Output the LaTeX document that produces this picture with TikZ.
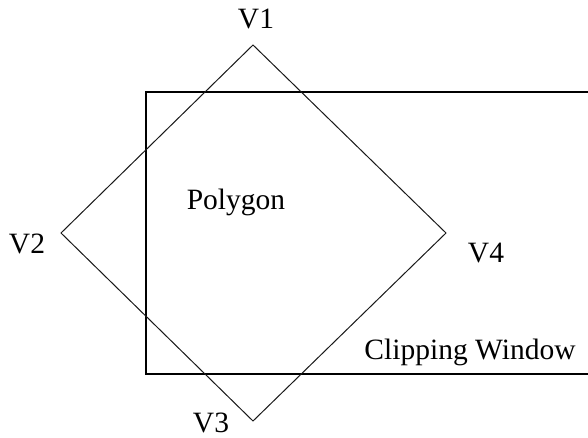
\documentclass[tikz,border=0pt]{standalone}
\usepackage{fontspec}
\setmainfont{Liberation Serif}
\begin{document}
\begin{tikzpicture}[x=1pt,y=-1pt,
  lbl/.style={inner sep=0pt,anchor=base,font=\fontsize{29.5}{31}\selectfont},
  winline/.style={draw=black,line width=1.3pt},
  polyline/.style={draw=black!90,line width=1pt}]
\useasboundingbox (0,0) rectangle (588,438);
\clip (0,0) rectangle (588,438);
\coordinate (w1) at (146,92);
\coordinate (w2) at (600,374);
\draw[winline] (w1) rectangle (w2);
\coordinate (v1) at (253,45);
\coordinate (v2) at (61,233);
\coordinate (v3) at (253,421);
\coordinate (v4) at (446,233);
\draw[polyline,line join=miter] (v1) -- (v2) -- (v3) -- (v4) -- cycle;
\node[lbl] (l1) at (256,29) {V1};
\node[lbl] (l2) at (27,253) {V2};
\node[lbl] (l3) at (211,432) {V3};
\node[lbl] (l4) at (486,262) {V4};
\node[lbl] (poly) at (236,210) {Polygon};
\node[lbl] (clip) at (470,359) {Clipping Window};
\end{tikzpicture}
\end{document}
